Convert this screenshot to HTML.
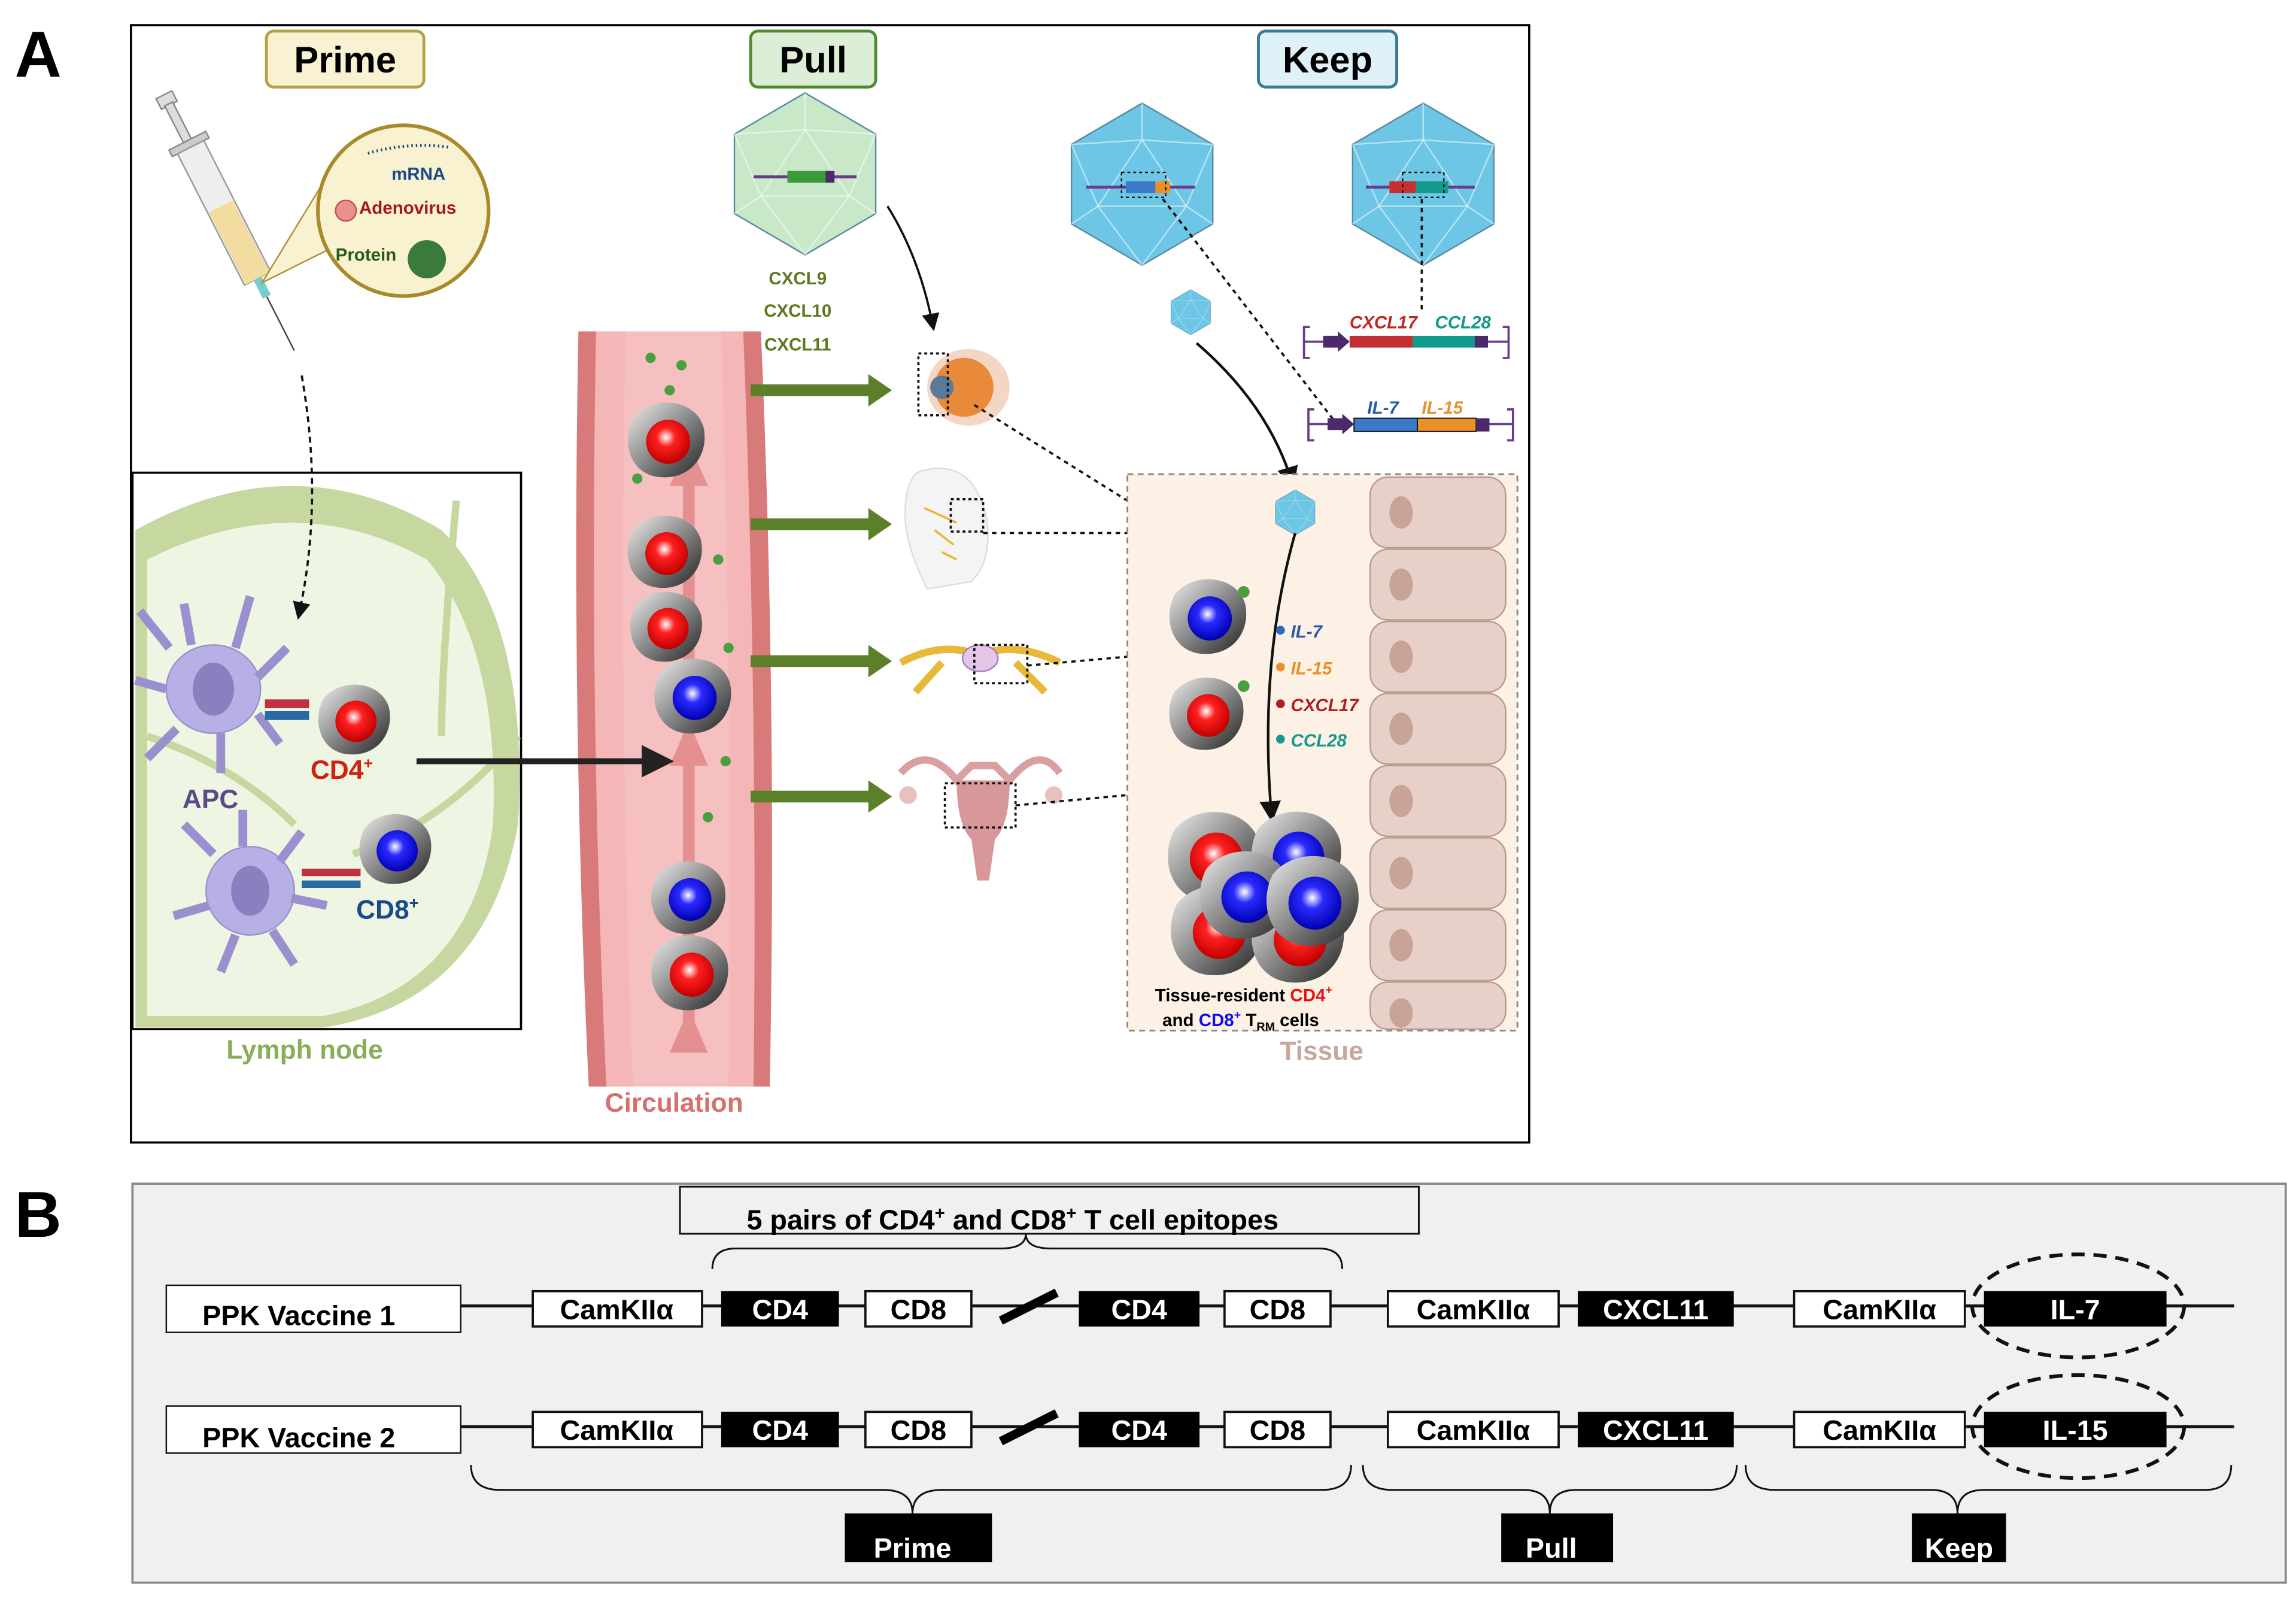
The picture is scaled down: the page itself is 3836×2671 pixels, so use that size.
<!DOCTYPE html>
<html><head><meta charset="utf-8"><style>
html,body{margin:0;padding:0;background:#fff}
svg{display:block}
text{font-family:"Liberation Sans",sans-serif}
</style></head><body>
<svg width="3836" height="2671" viewBox="0 0 1560 1086" xmlns="http://www.w3.org/2000/svg">
<defs>
<radialGradient id="gr" cx="0.45" cy="0.4" r="0.6"><stop offset="0" stop-color="#fff"/><stop offset="0.35" stop-color="#ff2020"/><stop offset="1" stop-color="#c00000"/></radialGradient>
<radialGradient id="gb" cx="0.45" cy="0.4" r="0.6"><stop offset="0" stop-color="#fff"/><stop offset="0.35" stop-color="#2a2aff"/><stop offset="1" stop-color="#0000b0"/></radialGradient>
<linearGradient id="gg" x1="0" y1="0" x2="1" y2="1"><stop offset="0" stop-color="#eee"/><stop offset="0.5" stop-color="#888"/><stop offset="1" stop-color="#222"/></linearGradient>
<marker id="ah" markerWidth="8" markerHeight="8" refX="6" refY="4" orient="auto"><path d="M0,0 L8,4 L0,8 Z" fill="#111"/></marker>
<symbol id="cellR" viewBox="-30 -30 60 60"><path d="M-22,-14 C-10,-30 20,-28 26,-8 C30,10 18,28 -4,26 C-24,24 -30,2 -22,-14Z" fill="url(#gg)"/><ellipse cx="2" cy="2" rx="15" ry="15" fill="url(#gr)"/></symbol>
<symbol id="cellB" viewBox="-30 -30 60 60"><path d="M-22,-14 C-10,-30 20,-28 26,-8 C30,10 18,28 -4,26 C-24,24 -30,2 -22,-14Z" fill="url(#gg)"/><ellipse cx="2" cy="2" rx="15" ry="15" fill="url(#gb)"/></symbol>
<symbol id="ico" viewBox="-50 -56 100 112"><polygon points="0,-55 48,-27 48,27 0,55 -48,27 -48,-27" fill="currentColor" stroke="#5a8aa0" stroke-width="1"/><g stroke="#ffffff" stroke-opacity="0.5" stroke-width="1" fill="none"><polygon points="0,-30 30,15 -30,15"/><path d="M0,-55 L0,-30 M48,-27 L30,15 M-48,-27 L-30,15 M0,55 L30,15 M0,55 L-30,15 M48,27 L30,15 M-48,27 L-30,15 M48,-27 L0,-30 M-48,-27 L0,-30"/></g></symbol>
</defs>

<text x="10" y="52" font-size="44" font-weight="bold">A</text>
<text x="10" y="840" font-size="44" font-weight="bold">B</text>

<rect x="89" y="17" width="950" height="759" fill="#fff" stroke="#000" stroke-width="1.5"/>
<rect x="181" y="21" width="107" height="38" rx="5" fill="#f8f1d2" stroke="#b5a048" stroke-width="2"/>
<text x="234.5" y="49" font-size="25" font-weight="bold" text-anchor="middle">Prime</text>
<rect x="510" y="21" width="85" height="38" rx="5" fill="#dcefd6" stroke="#4f8a30" stroke-width="2"/>
<text x="552.5" y="49" font-size="25" font-weight="bold" text-anchor="middle">Pull</text>
<rect x="855" y="21" width="94" height="38" rx="5" fill="#def1f7" stroke="#3a7a98" stroke-width="2"/>
<text x="902" y="49" font-size="25" font-weight="bold" text-anchor="middle">Keep</text>

<g transform="translate(150,140) rotate(-27)">
<rect x="-6" y="-85" width="12" height="8" fill="#ddd" stroke="#888"/>
<rect x="-3" y="-78" width="6" height="30" fill="#ddd" stroke="#888"/>
<rect x="-14" y="-50" width="28" height="5" fill="#ccc" stroke="#888"/>
<rect x="-10" y="-45" width="20" height="100" fill="#eee" stroke="#999"/>
<rect x="-9" y="0" width="18" height="55" fill="#f2dca0"/>
<rect x="-3" y="55" width="6" height="14" fill="#7cc" />
<line x1="0" y1="69" x2="0" y2="110" stroke="#444" stroke-width="1"/>
</g>
<path d="M178,192 L222,120 L222,170 Z" fill="#f8f2d0" stroke="#b09030" stroke-width="1"/>
<circle cx="274" cy="143" r="58" fill="#f8f2d0" stroke="#a88a2a" stroke-width="2.5"/>
<path d="M250,104 Q278,96 306,100" stroke="#1a4a7a" stroke-width="2" fill="none" stroke-dasharray="1 2"/>
<text x="266" y="122" font-size="12" font-weight="bold" fill="#1a4a8a">mRNA</text>
<circle cx="235" cy="143" r="7" fill="#e89090" stroke="#c05050"/>
<text x="244" y="145" font-size="12" font-weight="bold" fill="#a01818">Adenovirus</text>
<text x="228" y="177" font-size="12" font-weight="bold" fill="#2a5a1a">Protein</text>
<circle cx="290" cy="176" r="13" fill="#3a7a3a"/>

<rect x="90" y="321" width="264" height="378" fill="#fff" stroke="#000" stroke-width="1.5"/>
<path d="M92,360 Q200,300 300,360 Q360,420 352,560 Q330,680 220,698 L92,698 Z" fill="#c6d8a0"/>
<path d="M100,380 Q200,330 290,380 Q340,440 335,560 Q320,670 220,690 L100,690 Z" fill="#eef5e2"/>
<path d="M100,500 Q160,520 200,560 M310,340 Q300,450 300,500 M240,580 Q300,560 352,500" stroke="#c6d8a0" stroke-width="5" fill="none"/>
<path d="M205,255 Q220,340 203,418" stroke="#111" stroke-width="1.5" fill="none" stroke-dasharray="4 3" marker-end="url(#ah)"/>
<g fill="#b6b0e6" stroke="#9a90d0">
<ellipse cx="145" cy="468" rx="32" ry="30"/>
<path d="M115,440 L95,415 M130,438 L125,410 M160,440 L170,405 M175,460 L195,440 M175,485 L190,505 M150,498 L150,525 M120,495 L100,515 M113,468 L92,462" stroke-width="6"/>
<ellipse cx="170" cy="605" rx="30" ry="30"/>
<path d="M145,580 L125,560 M165,575 L165,550 M190,585 L205,565 M198,610 L222,615 M185,632 L200,655 M160,635 L150,660 M142,615 L118,622" stroke-width="6"/>
</g>
<ellipse cx="145" cy="468" rx="14" ry="18" fill="#8a80c0"/>
<ellipse cx="170" cy="605" rx="13" ry="17" fill="#8a80c0"/>
<rect x="180" y="475" width="30" height="6" fill="#c03040"/><rect x="180" y="483" width="30" height="6" fill="#2a6aa0"/>
<rect x="205" y="590" width="40" height="5" fill="#c03040"/><rect x="205" y="598" width="40" height="5" fill="#2a6aa0"/>
<use href="#cellR" x="212" y="460" width="56" height="56"/>
<use href="#cellB" x="240" y="548" width="56" height="56"/>
<text x="143" y="549" font-size="18" font-weight="bold" fill="#5a4a8a" text-anchor="middle">APC</text>
<text x="211" y="529" font-size="18" font-weight="bold" fill="#d02010">CD4<tspan font-size="11" dy="-7">+</tspan></text>
<text x="242" y="624" font-size="18" font-weight="bold" fill="#1a4a8a">CD8<tspan font-size="11" dy="-7">+</tspan></text>
<text x="207" y="719" font-size="18" font-weight="bold" fill="#8aad5a" text-anchor="middle">Lymph node</text>

<path d="M393,225 L517,225 Q528,480 523,738 L400,738 Q388,480 393,225Z" fill="#d87a7a"/>
<path d="M405,225 L505,225 Q515,480 512,738 L412,738 Q400,480 405,225Z" fill="#f4b6b6"/>
<path d="M425,225 L490,225 Q498,480 495,738 L430,738 Q420,480 425,225Z" fill="#f6c0c0"/>
<path d="M468,700 L468,320" stroke="#e49090" stroke-width="8"/>
<path d="M455,330 L468,300 L481,330Z M455,520 L468,490 L481,520Z M455,715 L468,685 L481,715Z" fill="#e49090"/>
<g fill="#4aa040"><circle cx="442" cy="243" r="3.5"/><circle cx="463" cy="248" r="3.5"/><circle cx="455" cy="265" r="3.5"/><circle cx="433" cy="325" r="3.5"/><circle cx="488" cy="380" r="3.5"/><circle cx="493" cy="517" r="3.5"/><circle cx="481" cy="555" r="3.5"/><circle cx="495" cy="440" r="3.5"/></g>
<use href="#cellR" x="422" y="268" width="60" height="60"/>
<use href="#cellR" x="422" y="345" width="58" height="58"/>
<use href="#cellR" x="424" y="397" width="56" height="56"/>
<use href="#cellB" x="440" y="442" width="60" height="60"/>
<use href="#cellB" x="438" y="580" width="58" height="58"/>
<use href="#cellR" x="438" y="630" width="60" height="60"/>
<text x="458" y="755" font-size="18" font-weight="bold" fill="#d5706e" text-anchor="middle">Circulation</text>
<path d="M283,517 L438,517" stroke="#222" stroke-width="4"/><path d="M436,506 L458,517 L436,528Z" fill="#222"/>

<g fill="#5c7f2a"><path d="M510,261 L590,261 L590,254 L606,265 L590,276 L590,269 L510,269Z"/><path d="M510,352 L590,352 L590,345 L606,356 L590,367 L590,360 L510,360Z"/><path d="M510,445 L590,445 L590,438 L606,449 L590,460 L590,453 L510,453Z"/><path d="M510,537 L590,537 L590,530 L606,541 L590,552 L590,545 L510,545Z"/></g>

<use href="#ico" x="497" y="62" width="100" height="112" color="#c8e8c8"/>
<line x1="512" y1="120" x2="582" y2="120" stroke="#6a3a8a" stroke-width="2"/>
<rect x="535" y="116" width="26" height="8" fill="#3a9a3a"/><rect x="561" y="116" width="6" height="8" fill="#4a2a6a"/>
<text x="542" y="193" font-size="12" font-weight="bold" fill="#5a7a20" text-anchor="middle">CXCL9</text>
<text x="542" y="215" font-size="12" font-weight="bold" fill="#5a7a20" text-anchor="middle">CXCL10</text>
<text x="542" y="238" font-size="12" font-weight="bold" fill="#5a7a20" text-anchor="middle">CXCL11</text>
<path d="M603,140 Q625,175 634,222" stroke="#111" stroke-width="1.5" fill="none" marker-end="url(#ah)"/>

<ellipse cx="658" cy="263" rx="28" ry="26" fill="#f4d6c4"/>
<circle cx="655" cy="263" r="20" fill="#e98a3a"/><circle cx="640" cy="263" r="8" fill="#5a7a9a"/>
<rect x="624" y="240" width="20" height="42" fill="none" stroke="#111" stroke-dasharray="2 2" stroke-width="1.5"/>
<path d="M625,320 Q660,310 670,350 Q675,380 660,395 L630,400 Q615,370 615,350 Q615,325 625,320Z" fill="#f4f4f4" stroke="#ddd"/>
<path d="M628,345 L650,355 M635,360 L648,370 M640,375 L650,380" stroke="#e8b838" stroke-width="1.5"/>
<rect x="646" y="339" width="22" height="22" fill="none" stroke="#111" stroke-dasharray="2 2" stroke-width="1.5"/>
<path d="M612,450 Q640,435 665,445 Q690,435 720,450 M622,470 L640,450 M710,470 L690,450" stroke="#e8b838" stroke-width="5" fill="none"/>
<ellipse cx="666" cy="447" rx="12" ry="9" fill="#e6c6e6" stroke="#a080c0"/>
<rect x="662" y="438" width="36" height="26" fill="none" stroke="#111" stroke-dasharray="2 2" stroke-width="1.5"/>
<path d="M612,525 Q630,505 650,530 L660,520 L676,520 L686,530 Q706,505 720,525" stroke="#d8a0a0" stroke-width="5" fill="none"/>
<path d="M650,530 Q650,560 660,570 L664,598 L672,598 L676,570 Q686,560 686,530Z" fill="#d8989a"/>
<circle cx="617" cy="540" r="6" fill="#e8c0c0"/><circle cx="716" cy="540" r="6" fill="#e8c0c0"/>
<rect x="642" y="532" width="48" height="30" fill="none" stroke="#111" stroke-dasharray="2 2" stroke-width="1.5"/>
<g stroke="#111" stroke-width="1.5" stroke-dasharray="3 3" fill="none">
<path d="M662,275 L766,340"/><path d="M668,362 L766,362"/><path d="M698,452 L766,446"/><path d="M690,547 L766,540"/>
</g>

<use href="#ico" x="726" y="69" width="100" height="112" color="#6ec6e6"/>
<use href="#ico" x="917" y="69" width="100" height="112" color="#6ec6e6"/>
<line x1="738" y1="127" x2="812" y2="127" stroke="#6a3a8a" stroke-width="2"/>
<rect x="765" y="123" width="20" height="8" fill="#3a7ac8"/><rect x="785" y="123" width="10" height="8" fill="#e8902a"/>
<rect x="762" y="117" width="30" height="17" fill="none" stroke="#111" stroke-dasharray="2 2"/>
<line x1="928" y1="127" x2="1002" y2="127" stroke="#6a3a8a" stroke-width="2"/>
<rect x="944" y="123" width="18" height="8" fill="#c83030"/><rect x="962" y="123" width="22" height="8" fill="#129a8a"/>
<rect x="953" y="117" width="28" height="17" fill="none" stroke="#111" stroke-dasharray="2 2"/>
<path d="M790,135 L906,285" stroke="#111" stroke-width="1.5" stroke-dasharray="3 3"/>
<path d="M966,135 L966,212" stroke="#111" stroke-width="1.5" stroke-dasharray="3 3"/>
<use href="#ico" x="795" y="196" width="28" height="32" color="#6ec6e6"/>
<path d="M813,233 Q862,275 878,328" stroke="#111" stroke-width="1.8" fill="none" marker-end="url(#ah)"/>

<g stroke="#6a3a8a" stroke-width="1.5" fill="none">
<path d="M890,222 L886,222 L886,243 L890,243 M886,232 L900,232"/><path d="M1021,222 L1025,222 L1025,243 L1021,243 M1010,232 L1025,232"/>
<path d="M893,278 L889,278 L889,299 L893,299 M889,288 L904,288"/><path d="M1024,278 L1028,278 L1028,299 L1024,299 M1012,288 L1028,288"/>
</g>
<path d="M899,228 L909,228 L909,225 L917,232 L909,239 L909,236 L899,236Z M902,284 L912,284 L912,281 L920,288 L912,295 L912,292 L902,292Z" fill="#4a2a6a"/>
<rect x="917" y="228" width="43" height="8" fill="#c03030"/><rect x="960" y="228" width="44" height="8" fill="#129a8a"/><rect x="1002" y="228" width="9" height="8" fill="#4a2a6a"/>
<rect x="920" y="284" width="43" height="9" fill="#3a7ac8" stroke="#111" stroke-width="0.8"/><rect x="963" y="284" width="40" height="9" fill="#e8902a" stroke="#111" stroke-width="0.8"/><rect x="1003" y="284" width="9" height="9" fill="#4a2a6a"/>
<text x="917" y="223" font-size="12" font-weight="bold" font-style="italic" fill="#c02828">CXCL17</text>
<text x="975" y="223" font-size="12" font-weight="bold" font-style="italic" fill="#129a8a">CCL28</text>
<text x="929" y="281" font-size="12" font-weight="bold" font-style="italic" fill="#2a5aa8">IL-7</text>
<text x="966" y="281" font-size="12" font-weight="bold" font-style="italic" fill="#e8902a">IL-15</text>

<rect x="766" y="322" width="265" height="378" fill="#fdf0e4" stroke="#888" stroke-width="1.2" stroke-dasharray="4 3"/>
<g fill="#e6d0c8" stroke="#b89a90">
<rect x="931" y="324" width="92" height="48" rx="12"/><rect x="931" y="373" width="92" height="48" rx="12"/><rect x="931" y="422" width="92" height="48" rx="12"/><rect x="931" y="471" width="92" height="48" rx="12"/><rect x="931" y="520" width="92" height="48" rx="12"/><rect x="931" y="569" width="92" height="48" rx="12"/><rect x="931" y="618" width="92" height="48" rx="12"/><rect x="931" y="667" width="92" height="32" rx="12"/>
</g>
<g fill="#c8a498"><ellipse cx="952" cy="348" rx="8" ry="11"/><ellipse cx="952" cy="397" rx="8" ry="11"/><ellipse cx="952" cy="446" rx="8" ry="11"/><ellipse cx="952" cy="495" rx="8" ry="11"/><ellipse cx="952" cy="544" rx="8" ry="11"/><ellipse cx="952" cy="593" rx="8" ry="11"/><ellipse cx="952" cy="642" rx="8" ry="11"/><ellipse cx="952" cy="688" rx="8" ry="10"/></g>
<use href="#ico" x="866" y="332" width="28" height="32" color="#6ec6e6"/>
<path d="M880,362 Q855,450 864,555" stroke="#111" stroke-width="1.8" fill="none" marker-end="url(#ah)"/>
<use href="#cellB" x="790" y="388" width="60" height="60"/>
<use href="#cellR" x="790" y="455" width="58" height="58"/>
<circle cx="845" cy="402" r="4" fill="#4aa040"/><circle cx="845" cy="466" r="4" fill="#4aa040"/>
<circle cx="870" cy="428" r="3" fill="#2a6ab8"/><text x="877" y="433" font-size="12" font-weight="bold" font-style="italic" fill="#2a5aa8">IL-7</text>
<circle cx="870" cy="453" r="3" fill="#e8902a"/><text x="877" y="458" font-size="12" font-weight="bold" font-style="italic" fill="#e8902a">IL-15</text>
<circle cx="870" cy="478" r="3" fill="#b02020"/><text x="877" y="483" font-size="12" font-weight="bold" font-style="italic" fill="#b02020">CXCL17</text>
<circle cx="870" cy="502" r="3" fill="#129a8a"/><text x="877" y="507" font-size="12" font-weight="bold" font-style="italic" fill="#129a8a">CCL28</text>
<use href="#cellR" x="788" y="545" width="72" height="72"/>
<use href="#cellR" x="790" y="595" width="72" height="72"/>
<use href="#cellR" x="845" y="600" width="72" height="72"/>
<use href="#cellB" x="845" y="545" width="70" height="70"/>
<use href="#cellB" x="810" y="572" width="70" height="70"/>
<use href="#cellB" x="855" y="575" width="72" height="72"/>
<text x="845" y="680" font-size="12" font-weight="bold" text-anchor="middle">Tissue-resident <tspan fill="#e81010">CD4<tspan font-size="8" dy="-5">+</tspan></tspan></text>
<text x="843" y="697" font-size="12" font-weight="bold" text-anchor="middle">and <tspan fill="#1010e8">CD8<tspan font-size="8" dy="-5">+</tspan></tspan><tspan dy="5"> T</tspan><tspan font-size="8" dy="3">RM</tspan><tspan dy="-3"> cells</tspan></text>
<text x="898" y="720" font-size="18" font-weight="bold" fill="#c8a89e" text-anchor="middle">Tissue</text>

<rect x="90" y="804" width="1463" height="271" fill="#f0f0f0" stroke="#888" stroke-width="1.5"/>
<rect x="462" y="806" width="502" height="32" fill="#f0f0f0" stroke="#111" stroke-width="1.2"/>
<text x="688" y="835" font-size="19" font-weight="bold" text-anchor="middle">5 pairs of CD4<tspan font-size="12" dy="-7">+</tspan><tspan dy="7"> and CD8</tspan><tspan font-size="12" dy="-7">+</tspan><tspan dy="7"> T cell epitopes</tspan></text>
<path d="M484,862 Q484,848 500,848 L680,848 Q697,848 697,838 Q697,848 714,848 L896,848 Q912,848 912,862" stroke="#111" stroke-width="1.2" fill="none"/>

<g font-size="19" font-weight="bold" text-anchor="middle">
<line x1="313" y1="887" x2="1518" y2="887" stroke="#111" stroke-width="2"/>
<line x1="313" y1="969" x2="1518" y2="969" stroke="#111" stroke-width="2"/>
<rect x="113" y="873" width="200" height="32" fill="#fff" stroke="#111"/><text x="203" y="900">PPK Vaccine 1</text>
<rect x="113" y="955" width="200" height="32" fill="#fff" stroke="#111"/><text x="203" y="983">PPK Vaccine 2</text>
<g id="row1">
<rect x="362" y="877" width="115" height="24" fill="#fff" stroke="#111" stroke-width="1.5"/><text x="419" y="896">CamKIIα</text>
<rect x="490" y="877" width="80" height="24" fill="#000"/><text x="530" y="896" fill="#fff">CD4</text>
<rect x="588" y="877" width="72" height="24" fill="#fff" stroke="#111" stroke-width="1.5"/><text x="624" y="896">CD8</text>
<line x1="680" y1="897" x2="718" y2="878" stroke="#000" stroke-width="6"/>
<rect x="733" y="877" width="82" height="24" fill="#000"/><text x="774" y="896" fill="#fff">CD4</text>
<rect x="832" y="877" width="72" height="24" fill="#fff" stroke="#111" stroke-width="1.5"/><text x="868" y="896">CD8</text>
<rect x="943" y="877" width="116" height="24" fill="#fff" stroke="#111" stroke-width="1.5"/><text x="1001" y="896">CamKIIα</text>
<rect x="1072" y="877" width="106" height="24" fill="#000"/><text x="1125" y="896" fill="#fff">CXCL11</text>
<rect x="1219" y="877" width="116" height="24" fill="#fff" stroke="#111" stroke-width="1.5"/><text x="1277" y="896">CamKIIα</text>
<rect x="1348" y="877" width="124" height="24" fill="#000"/>
</g>
<text x="1410" y="896" fill="#fff">IL-7</text>
<use href="#row1" y="82"/>
<text x="1410" y="978" fill="#fff">IL-15</text>
<ellipse cx="1412" cy="887" rx="72" ry="35" fill="none" stroke="#111" stroke-width="2.5" stroke-dasharray="9 6"/>
<ellipse cx="1412" cy="969" rx="72" ry="35" fill="none" stroke="#111" stroke-width="2.5" stroke-dasharray="9 6"/>
<path d="M320,995 Q320,1012 340,1012 L600,1012 Q620,1012 620,1028 Q620,1012 640,1012 L898,1012 Q918,1012 918,995" stroke="#111" stroke-width="1.2" fill="none"/>
<path d="M926,995 Q926,1012 946,1012 L1035,1012 Q1053,1012 1053,1028 Q1053,1012 1071,1012 L1160,1012 Q1180,1012 1180,995" stroke="#111" stroke-width="1.2" fill="none"/>
<path d="M1186,995 Q1186,1012 1206,1012 L1312,1012 Q1330,1012 1330,1028 Q1330,1012 1348,1012 L1498,1012 Q1516,1012 1516,995" stroke="#111" stroke-width="1.2" fill="none"/>
<rect x="574" y="1028" width="100" height="33" fill="#000"/><text x="620" y="1058" fill="#fff">Prime</text>
<rect x="1020" y="1028" width="76" height="33" fill="#000"/><text x="1054" y="1058" fill="#fff">Pull</text>
<rect x="1299" y="1028" width="64" height="33" fill="#000"/><text x="1331" y="1058" fill="#fff">Keep</text>
</g>
</svg>
</body></html>
